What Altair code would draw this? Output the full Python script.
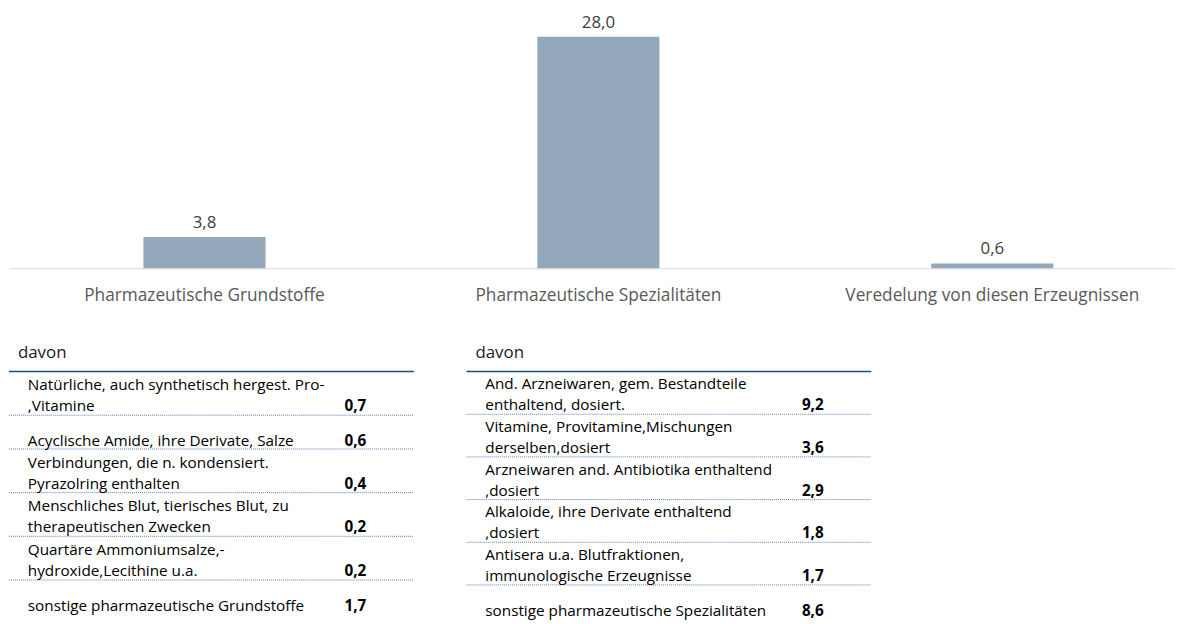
import altair as alt
import pandas as pd

# ---------------- data ----------------
categories = ["Pharmazeutische Grundstoffe", "Pharmazeutische Spezialitäten",
              "Veredelung von diesen Erzeugnissen"]
values = [3.8, 28.0, 0.6]

left_header = "davon"
left_labels = [
    ["Natürliche, auch synthetisch hergest. Pro-", ",Vitamine"],
    ["Acyclische Amide, ihre Derivate, Salze"],
    ["Verbindungen, die n. kondensiert.", "Pyrazolring enthalten"],
    ["Menschliches Blut, tierisches Blut, zu", "therapeutischen Zwecken"],
    ["Quartäre Ammoniumsalze,-", "hydroxide,Lecithine u.a."],
    ["sonstige pharmazeutische Grundstoffe"],
]
left_values = [0.7, 0.6, 0.4, 0.2, 0.2, 1.7]

right_header = "davon"
right_labels = [
    ["And. Arzneiwaren, gem. Bestandteile", "enthaltend, dosiert."],
    ["Vitamine, Provitamine,Mischungen", "derselben,dosiert"],
    ["Arzneiwaren and. Antibiotika enthaltend", ",dosiert"],
    ["Alkaloide, ihre Derivate enthaltend", ",dosiert"],
    ["Antisera u.a. Blutfraktionen,", "immunologische Erzeugnisse"],
    ["sonstige pharmazeutische Spezialitäten"],
]
right_values = [9.2, 3.6, 2.9, 1.8, 1.7, 8.6]

FONT = "Open Sans"


def de(v):
    return f"{v:.1f}".replace(".", ",")


# ---------------- bar chart ----------------
bar_df = pd.DataFrame({"cat": categories, "val": values,
                       "lbl": [de(v) for v in values]})

xenc = alt.X("cat:N", sort=categories,
             scale=alt.Scale(paddingInner=0.69, paddingOuter=0.325, align=0.525),
             axis=alt.Axis(title=None, labelAngle=0, ticks=False, tickSize=0,
                           domainColor="#D9D9D9", domainWidth=1,
                           labelColor="#595959", labelFont=FONT, labelFontSize=17.4,
                           labelPadding=18, labelLimit=600, grid=False))
yenc = alt.Y("val:Q", scale=alt.Scale(domain=[0, 31.2], nice=False), axis=None)

bars = alt.Chart(bar_df).mark_bar(color="#94A8BC").encode(x=xenc, y=yenc)
blabels = alt.Chart(bar_df).mark_text(baseline="alphabetic", dy=-9, font=FONT,
                                      fontSize=17, color="#404040").encode(
    x=alt.X("cat:N", sort=categories), y="val:Q", text="lbl:N")
top = (bars + blabels).properties(width=1175, height=260)


# ---------------- tables ----------------
def table(header, labels, vals, row2):
    W, H = 408, 282
    line_y = 31.0
    texts, rules = [], []
    cursor = line_y
    for i, (lines, v) in enumerate(zip(labels, vals)):
        n = len(lines)
        h = row2 if n == 2 else 34
        bottom = cursor + h
        off = 9 if n == 2 else 8
        for j, t in enumerate(lines):
            yy = bottom - off - (n - 1 - j) * 21
            texts.append({"x": 19, "y": yy, "t": t, "kind": "label"})
        texts.append({"x": 338, "y": bottom - off, "t": de(v), "kind": "value"})
        if i < len(labels) - 1:
            rules.append({"x": 0, "x2": W, "y": bottom})
        cursor = bottom
    tdf = pd.DataFrame(texts)
    rdf = pd.DataFrame(rules)
    hdf = pd.DataFrame([{"x": 9, "y": 12, "t": header}])
    ldf = pd.DataFrame([{"x": 0, "x2": W, "y": line_y}])

    xs = alt.Scale(domain=[0, W], nice=False, zero=False)
    ys = alt.Scale(domain=[H, 0], nice=False, zero=False)

    head = alt.Chart(hdf).mark_text(align="left", baseline="middle", font=FONT,
                                    fontSize=17, color="#1a1a1a").encode(
        x=alt.X("x:Q", scale=xs, axis=None), y=alt.Y("y:Q", scale=ys, axis=None),
        text="t:N")
    hline = alt.Chart(ldf).mark_rule(color="#1F4E8C", strokeWidth=1.5).encode(
        x=alt.X("x:Q", scale=xs, axis=None), x2="x2:Q",
        y=alt.Y("y:Q", scale=ys, axis=None))
    dots = alt.Chart(rdf).mark_rule(color="#5B7DB8", strokeWidth=1,
                                    strokeDash=[1, 1]).encode(
        x=alt.X("x:Q", scale=xs, axis=None), x2="x2:Q",
        y=alt.Y("y:Q", scale=ys, axis=None))
    lab = alt.Chart(tdf[tdf.kind == "label"]).mark_text(
        align="left", baseline="middle", font=FONT, fontSize=15.4,
        color="#000000").encode(
        x=alt.X("x:Q", scale=xs, axis=None), y=alt.Y("y:Q", scale=ys, axis=None),
        text="t:N")
    val = alt.Chart(tdf[tdf.kind == "value"]).mark_text(
        align="left", baseline="middle", font=FONT, fontSize=15.4,
        fontWeight="bold", color="#000000").encode(
        x=alt.X("x:Q", scale=xs, axis=None), y=alt.Y("y:Q", scale=ys, axis=None),
        text="t:N")
    return (head + hline + dots + lab + val).properties(width=W, height=H)


left = table(left_header, left_labels, left_values, 44)
right = table(right_header, right_labels, right_values, 43)

bottom_row = alt.hconcat(left, right, spacing=51)

chart = alt.vconcat(top, bottom_row, spacing=37).properties(
    padding=0, background="white"
).configure_view(stroke=None)

chart.save("out.html", embed_options={"renderer": "svg", "actions": False})
